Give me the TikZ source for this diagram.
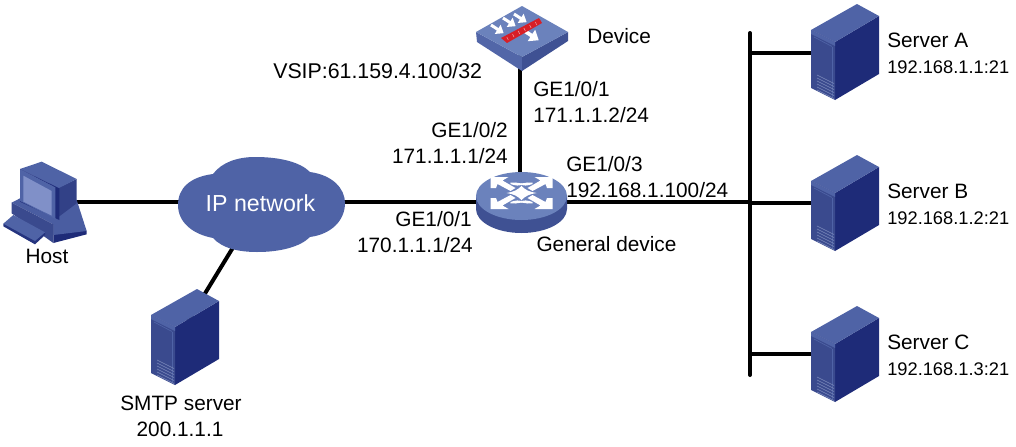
\documentclass[tikz,border=0pt]{standalone}
\usepackage{fontspec}
\usetikzlibrary{calc}
\setmainfont{Liberation Sans}
\definecolor{navy}{HTML}{1E2B78}
\definecolor{cloudblue}{HTML}{4F63A6}
\definecolor{frontblue}{HTML}{3A4A8E}
\definecolor{toplight}{HTML}{6B82BC}
\definecolor{sidedark}{HTML}{3F5193}
\definecolor{screenblue}{HTML}{8090C8}
\definecolor{barred}{HTML}{D81F26}
\newcommand{\fsA}{\fontsize{15.6}{18}\selectfont}
\newcommand{\fsB}{\fontsize{13.7}{16}\selectfont}
\newcommand{\fsC}{\fontsize{16}{18}\selectfont}
\tikzset{
  wire/.style={line width=3pt,black},
  buswire/.style={line width=3pt,black,line cap=round},
  anchorbox/.style={inner sep=0pt,minimum size=2pt},
  lbl/.style={inner sep=0pt,font=\fsA,text=black},
  addr/.style={inner sep=0pt,font=\fsB,text=black},
  srv/.pic={
    \fill[navy] (24,12) -- (68,-14) -- (68,44) -- (24,70) -- cycle;
    \fill[cloudblue] (0,0) -- (46,-26) -- (68,-14) -- (24,12) -- cycle;
    \fill[frontblue] (0,0) -- (24,12) -- (24,70) -- (0,58) -- cycle;
    \fill[cloudblue] (0,0) -- (24,12) -- (24,16) -- (0,4) -- cycle;
    \draw[cloudblue,line width=.5pt] (3,7) -- (21,16.5);
    \draw[cloudblue,line width=.5pt] (21,16.5) -- (21,67);
    \foreach \k in {0,3,...,15}{
      \draw[cloudblue!75!white,line width=.45pt] (6,45+\k) -- (23,53.5+\k);
    }
  },
  fwarrow/.pic={
    \fill[white] (0,-1.5) -- (8,-1.5) -- (8,-5.5) -- (15,0) -- (8,5.5) -- (8,1.5) -- (0,1.5) -- cycle;
  }
}
\begin{document}
\begin{tikzpicture}[x=0.75pt,y=-0.75pt]
\useasboundingbox (0,0) rectangle (1016,446);

% anchors of the devices and of the bus
\node[anchorbox] (host) at (50,201.5) {};
\node[anchorbox] (cloud) at (261,201.5) {};
\node[anchorbox] (smtp) at (187,323) {};
\node[anchorbox] (router) at (520,201.5) {};
\node[anchorbox] (firewall) at (520,40) {};
\node[anchorbox] (srvA) at (835,53) {};
\node[anchorbox] (srvB) at (835,203) {};
\node[anchorbox] (srvC) at (835,354) {};
\coordinate (bustop) at (750,33);
\coordinate (busbot) at (750,375);
\coordinate (busA) at (750,53);
\coordinate (busR) at (750,201.5);
\coordinate (busB) at (750,203);
\coordinate (busC) at (750,354);

% connectors
\draw[wire] (host) -- (cloud);
\draw[wire] (cloud) -- (router);
\draw[wire] (cloud) -- (smtp);
\draw[wire] (firewall) -- (router);
\draw[wire] (router) -- (busR);
\draw[buswire] (bustop) -- (busbot);
\draw[wire] (busA) -- (srvA);
\draw[wire] (busB) -- (srvB);
\draw[wire] (busC) -- (srvC);

% cloud
\fill[cloudblue] (178,205)
  .. controls (178,188) and (190,177) .. (213,174)
  .. controls (222,162) and (238,157) .. (255,157)
  .. controls (280,157) and (300,162) .. (310,172)
  .. controls (332,175) and (345,188) .. (345,203)
  .. controls (345,220) and (332,234) .. (310,237)
  .. controls (300,247) and (280,252) .. (257,252)
  .. controls (238,252) and (222,248) .. (213,238)
  .. controls (192,234) and (178,222) .. (178,205) -- cycle;
\node[inner sep=0pt,font=\fontsize{17.4}{20}\selectfont,text=white,anchor=base] (iplabel) at (260.5,211) {IP network};

% host
\begin{scope}[shift={(0,155)},x=0.25pt,y=-0.25pt]
  % base
  \fill[navy] (160,205) -- (260,228) -- (260,238) -- (160,264) -- cycle;
  \fill[cloudblue!90!navy] (35,143) -- (60,130) -- (230,135) -- (260,228) -- (160,240) -- (160,208) -- cycle;
  \fill[frontblue] (35,143) -- (160,208) -- (160,264) -- (35,175) -- cycle;
  % keyboard tray
  \fill[navy!85!cloudblue] (10,206) -- (135,232) -- (135,240) -- (105,268) -- (10,214) -- cycle;
  \fill[cloudblue] (10,206) -- (40,180) -- (135,232) -- (105,258) -- cycle;
  % monitor
  \fill[frontblue!70!navy] (170,100) -- (230,72) -- (230,145) -- (170,190) -- cycle;
  \fill[cloudblue] (60,42) -- (125,20) -- (230,72) -- (175,100) -- cycle;
  \fill[navy] (60,42) -- (178,100) -- (178,195) -- (60,140) -- cycle;
  \fill[cloudblue] (60,42) -- (166,97) -- (166,192) -- (60,138) -- cycle;
  \fill[screenblue] (70,62) -- (155,108) -- (155,182) -- (70,140) -- cycle;
\end{scope}

% router
\fill[sidedark] (476,197) -- (476,209) arc[start angle=180,end angle=0,x radius=45.5,y radius=24] -- (567,197) -- cycle;
\fill[toplight] (521.5,196) ellipse[x radius=45.5,y radius=24];
\begin{scope}[shift={(521.5,193)}]
  \foreach \sx/\sy in {1/1,-1/1,1/-1,-1/-1}{
    \begin{scope}[xscale=\sx,yscale=\sy]
      \fill[white] (-31,-16) -- (-13,-16) -- (-19,-12.5) -- (-6,-5) -- (-11,-2) -- (-24,-9) -- (-25.5,-5) -- (-31,-5) -- cycle;
      \draw[white,line width=1.2pt] (-11,-9.5) .. controls (-5,-11) and (3,-6.5) .. (9,-9);
    \end{scope}
  }
  \fill[white] (-15,0) .. controls (-8,-1) and (-4,-3) .. (0,-7)
    .. controls (4,-3) and (8,-1) .. (15,0)
    .. controls (8,1) and (4,3) .. (0,7)
    .. controls (-4,3) and (-8,1) .. (-15,0) -- cycle;
\end{scope}

% firewall
\fill[cloudblue!90!toplight] (476,32) -- (522,57) -- (522,71) -- (477,42) -- cycle;
\fill[sidedark] (568,32) -- (522,57) -- (522,71) -- (568,41) -- cycle;
\fill[toplight] (476,32) -- (522,6) -- (568,32) -- (522,57) -- cycle;
\pic[shift={(491,25)},rotate=-33] {fwarrow};
\pic[shift={(503,18)},rotate=-33] {fwarrow};
\pic[shift={(514,14)},rotate=-33] {fwarrow};
\pic[shift={(523,30)},rotate=-33,scale=1.25] {fwarrow};
\fill[barred] (501,38) -- (539,18) -- (542,23) -- (507,43) -- cycle;
\foreach \t in {.1,.25,.4,.55,.7,.85}{
  \draw[white!60!barred,line width=.4pt] ($(501,38)!\t!(539,18)+(2,1)$) -- +(1.5,3);
}

% servers
\pic at (811,30) {srv};
\pic at (811,181) {srv};
\pic at (811,332) {srv};
\pic at (151,315) {srv};

% labels
\node[lbl,anchor=base] (hostlbl) at (47,263) {Host};
\node[lbl,anchor=base] (smtplbl) at (181,410) {SMTP server};
\node[lbl,anchor=base] (smtpip) at (180,436) {200.1.1.1};
\node[lbl,anchor=base west,font=\fsC] (vsip) at (273,78) {VSIP:61.159.4.100/32};
\node[lbl,anchor=base west] (devlbl) at (587,43) {Device};
\node[lbl,anchor=base west] (p1a) at (533,96) {GE1/0/1};
\node[lbl,anchor=base west] (p1b) at (533,122) {171.1.1.2/24};
\node[lbl,anchor=base east] (p2a) at (508,137) {GE1/0/2};
\node[lbl,anchor=base east] (p2b) at (508,163) {171.1.1.1/24};
\node[lbl,anchor=base east] (p3a) at (472,226) {GE1/0/1};
\node[lbl,anchor=base east] (p3b) at (473,252) {170.1.1.1/24};
\node[lbl,anchor=base west] (p4a) at (566,171) {GE1/0/3};
\node[lbl,anchor=base west] (p4b) at (566,197) {192.168.1.100/24};
\node[lbl,anchor=base] (gen) at (606.5,251) {General device};
\node[lbl,anchor=base west] (sAn) at (887,47.5) {Server A};
\node[addr,anchor=base west] (sAi) at (887,73) {192.168.1.1:21};
\node[lbl,anchor=base west] (sBn) at (887,198) {Server B};
\node[addr,anchor=base west] (sBi) at (887,224) {192.168.1.2:21};
\node[lbl,anchor=base west] (sCn) at (887,349) {Server C};
\node[addr,anchor=base west] (sCi) at (887,375) {192.168.1.3:21};
\end{tikzpicture}
\end{document}
